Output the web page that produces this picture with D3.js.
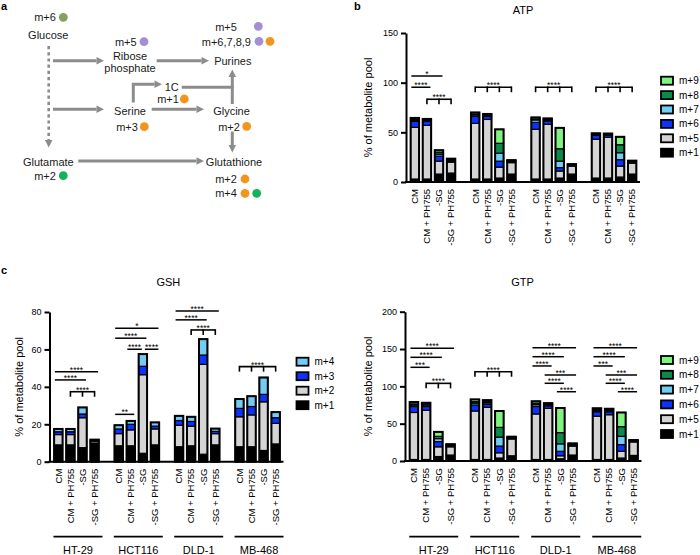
<!DOCTYPE html>
<html><head><meta charset="utf-8">
<script src="https://cdn.jsdelivr.net/npm/d3@7"></script>
<style>body{margin:0;background:#fff}</style>
</head><body><svg id="fig" width="700" height="555"></svg>
<script>
// ---------------- DATA ----------------
const conditions = ["CM", "CM + PH755", "-SG", "-SG + PH755"];
const cellLines = ["HT-29", "HCT116", "DLD-1", "MB-468"];
const purineIsotopologues = ["m+1", "m+5", "m+6", "m+7", "m+8", "m+9"];
const gshIsotopologues = ["m+1", "m+2", "m+3", "m+4"];

// ATP (% of metabolite pool), order: cell line x condition
const atp_m1 = [3, 3, 8, 9, 3, 3, 4, 8, 3, 3, 4, 8, 4, 4, 5, 8];
const atp_m5 = [52, 54, 13, 11, 56, 60, 11, 11.5, 50, 55, 7, 8, 39, 41, 11, 11];
const atp_m6 = [6, 4, 5, 1, 7, 3, 6, 1, 7, 3.5, 3.5, 0.5, 4, 2, 6.5, 1];
const atp_m7 = [1, 1, 2, 1, 1.5, 1, 8, 0.5, 2.5, 1, 6.5, 0.5, 0.5, 0.5, 7, 0.5];
const atp_m8 = [1, 0.5, 2, 0.5, 1, 0.5, 10, 0.5, 1, 0.5, 12.5, 0.5, 0.5, 0.3, 8, 0.5];
const atp_m9 = [1.5, 1, 2, 1, 1.5, 1, 14, 0.5, 1.5, 1, 21, 0.5, 1, 1, 8, 0.5];

// GSH
const gsh_m1 = [9, 9, 7.5, 10, 8.5, 8.5, 4.5, 9, 8, 8.5, 4, 9, 8, 8, 6, 9.5];
const gsh_m2 = [5.5, 5.5, 16, 1, 6.5, 8.5, 42, 8.5, 11.5, 10.5, 48, 6, 16, 17, 26, 11];
const gsh_m3 = [1.5, 1.5, 2, 0.3, 2.5, 3, 4.5, 1.5, 2.5, 2.5, 5, 1.2, 4.5, 4.5, 4, 3];
const gsh_m4 = [1.5, 1.5, 3.5, 0.5, 2, 1.8, 6.5, 2, 2.5, 2.5, 8.5, 1.5, 5, 5.5, 9, 3];

// GTP
const gtp_m1 = [2, 2, 6, 8, 2, 2, 4, 7, 2, 2, 3, 8, 2, 2, 4, 7.5];
const gtp_m5 = [63, 66, 13, 11, 65, 70, 7, 22.5, 61, 68.5, 4, 12, 58, 60, 9, 18];
const gtp_m6 = [8, 5, 7, 1, 8, 4, 9, 1, 10, 3.5, 6, 1.3, 6, 4, 9, 1];
const gtp_m7 = [2, 2, 4, 1, 2.5, 2, 12, 0.8, 2.5, 1.2, 10, 0.8, 1.5, 1.5, 11, 0.6];
const gtp_m8 = [1.5, 1, 3, 0.5, 2, 1.5, 13, 0.5, 2, 1, 15, 0.5, 1.5, 1, 13, 0.4];
const gtp_m9 = [2.5, 2, 6, 1, 3, 2, 22, 0.8, 2.5, 1.3, 33, 1, 1.6, 1.5, 19, 0.6];

const atpTicks = [0, 50, 100, 150];
const gshTicks = [0, 20, 40, 60, 80];
const gtpTicks = [0, 50, 100, 150, 200];

// significance: [cell line index, first bar, last bar, height (% of pool), label, kind]
const atpSig = [
  [0, 0, 2, 106.7, "*", "line"], [0, 0, 1, 95.4, "****", "line"], [0, 1, 3, 83.3, "****", "bracket"],
  [1, 0, 3, 95.4, "****", "bracket"], [2, 0, 3, 95.4, "****", "bracket"], [3, 0, 3, 95.4, "****", "bracket"]
];
const gshSig = [
  [0, 0, 3, 48.1, "****", "line"], [0, 0, 2, 43.7, "****", "line"], [0, 1, 3, 37.4, "****", "bracket"],
  [1, 0, 3, 71.3, "*", "line"], [1, 0, 2, 66, "****", "line"], [1, 1, 2, 60.1, "****", "line"],
  [1, 2, 3, 60.1, "****", "line"], [1, 0, 1, 25.3, "**", "line"],
  [2, 0, 3, 80.6, "****", "line"], [2, 0, 2, 75.8, "****", "line"], [2, 1, 3, 70.4, "****", "bracket"],
  [3, 0, 3, 50.8, "****", "bracket"]
];
const gtpSig = [
  [0, 0, 3, 151, "****", "line"], [0, 0, 2, 138.9, "****", "line"], [0, 0, 1, 125.5, "***", "line"],
  [0, 1, 3, 104, "****", "bracket"],
  [1, 0, 3, 119.6, "****", "bracket"],
  [2, 0, 3, 151.8, "****", "line"], [2, 0, 2, 139.7, "****", "line"], [2, 0, 1, 127.3, "****", "line"],
  [2, 1, 3, 115.2, "***", "line"], [2, 1, 2, 104.1, "****", "line"], [2, 2, 3, 92.8, "****", "line"],
  [3, 0, 3, 151.8, "****", "line"], [3, 0, 2, 139.7, "****", "line"], [3, 0, 1, 127.3, "***", "line"],
  [3, 1, 3, 115.2, "***", "line"], [3, 1, 2, 104.1, "****", "line"], [3, 2, 3, 92.8, "****", "line"]
];

// ---------------- DRAWING ----------------
const FONT = "'Liberation Sans', Arial, Helvetica, sans-serif";
const svg = d3.select("#fig").attr("font-family", FONT);
const colorMap = {
  "m+1": "#000000", "m+2": "#d4d4d4", "m+5": "#d4d4d4",
  "m+3": "#0a33ff", "m+6": "#0a33ff", "m+4": "#72cdf4", "m+7": "#72cdf4",
  "m+8": "#0b8b4b", "m+9": "#7ff57f"
};

function drawPanel(cfg) {
  const g = svg.append("g");
  const y = d3.scaleLinear().domain([0, cfg.ymax]).range([cfg.y0, cfg.yTop]);
  const gx = d3.scaleBand().domain(cellLines).range([cfg.x0 + 1, cfg.x1]).paddingInner(0.2).paddingOuter(0.03);
  const bx = d3.scaleBand().domain(conditions).range([0, gx.bandwidth()]).paddingInner(0.3).paddingOuter(0.15);
  const center = (gi, ci) => gx(cellLines[gi]) + bx(conditions[ci]) + bx.bandwidth() / 2;

  const rows = [];
  cellLines.forEach((cl, gi) => conditions.forEach((c, ci) => {
    const r = { cl, c };
    cfg.series.forEach((s, si) => r[s] = cfg.values[si][gi * 4 + ci]);
    rows.push(r);
  }));
  const stack = d3.stack().keys(cfg.series)(rows);
  stack.forEach(layer => {
    g.append("g").selectAll("rect").data(layer).enter().append("rect")
      .attr("x", d => gx(d.data.cl) + bx(d.data.c))
      .attr("y", d => y(d[1]))
      .attr("width", bx.bandwidth())
      .attr("height", d => y(d[0]) - y(d[1]))
      .attr("fill", colorMap[layer.key])
      .attr("stroke", "#000").attr("stroke-width", 1.2);
  });
  const top = stack[stack.length - 1];
  g.append("g").selectAll("rect").data(top).enter().append("rect")
    .attr("x", d => gx(d.data.cl) + bx(d.data.c))
    .attr("y", d => y(d[1]))
    .attr("width", bx.bandwidth())
    .attr("height", d => y(0) - y(d[1]))
    .attr("fill", "none").attr("stroke", "#000").attr("stroke-width", 2);

  // y axis
  const ax = g.append("g").attr("transform", `translate(${cfg.x0},0)`)
    .call(d3.axisLeft(y).tickValues(cfg.ticks).tickSize(5).tickSizeOuter(0).tickPadding(3));
  ax.attr("font-family", FONT).attr("font-size", 9);
  ax.select(".domain").attr("stroke-width", 2);
  ax.selectAll(".tick line").attr("stroke-width", 2);
  ax.selectAll(".tick text").attr("fill", "#000");
  // x axis line
  g.append("line").attr("x1", cfg.x0 - 1).attr("x2", cfg.x1).attr("y1", cfg.y0).attr("y2", cfg.y0)
    .attr("stroke", "#000").attr("stroke-width", 2);

  // x labels
  cellLines.forEach((cl, gi) => conditions.forEach((c, ci) => {
    g.append("text").attr("transform", `translate(${center(gi, ci)},${cfg.y0 + 7}) rotate(-90)`)
      .attr("text-anchor", "end").attr("dy", "0.35em").attr("font-size", 9.5).text(c);
  }));

  // y label
  g.append("text").attr("transform", `translate(${cfg.ylabelX},${(cfg.y0 + cfg.yTop) / 2}) rotate(-90)`)
    .attr("text-anchor", "middle").attr("dy", "0.35em").attr("font-size", 11).text("% of metabolite pool");
  // title
  g.append("text").attr("x", cfg.titleX).attr("y", cfg.titleY).attr("text-anchor", "middle")
    .attr("font-size", 11).text(cfg.title);

  // significance
  cfg.sig.forEach(s => {
    const [gi, a, b, h, lab, kind] = s;
    const yy = y(h);
    const ca = center(gi, a), cb = center(gi, b);
    let mid;
    if (kind === "line") {
      const endShared = cfg.sig.some(o => o !== s && o[0] === gi && o[3] === h && o[1] === b);
      const startShared = cfg.sig.some(o => o !== s && o[0] === gi && o[3] === h && o[2] === a);
      const lx1 = startShared ? ca + 2 : ca - 3.5;
      const lx2 = endShared ? cb - 1 : cb + 3.5;
      g.append("line").attr("x1", lx1).attr("x2", lx2).attr("y1", yy).attr("y2", yy)
        .attr("stroke", "#000").attr("stroke-width", 1.5);
      mid = (lx1 + lx2) / 2;
    } else {
      g.append("line").attr("x1", ca).attr("x2", cb).attr("y1", yy).attr("y2", yy)
        .attr("stroke", "#000").attr("stroke-width", 1.6);
      for (let i = a; i <= b; i++) {
        const cx = center(gi, i);
        g.append("line").attr("x1", cx).attr("x2", cx).attr("y1", yy - 0.8).attr("y2", yy + 5)
          .attr("stroke", "#000").attr("stroke-width", 1.6);
      }
      mid = (ca + cb) / 2;
    }
    g.append("text").attr("x", mid).attr("y", yy + 1).attr("text-anchor", "middle")
      .attr("font-size", 8.5).text(lab);
  });

  // legend
  const leg = cfg.series.slice().reverse();
  leg.forEach((s, i) => {
    const cy = cfg.legY + i * cfg.legDy;
    g.append("rect").attr("x", cfg.legX).attr("y", cy - 4).attr("width", 12).attr("height", 8)
      .attr("fill", colorMap[s]).attr("stroke", "#000").attr("stroke-width", 1.8);
    g.append("text").attr("x", cfg.legX + 18).attr("y", cy + 3.5).attr("font-size", 10).text(s);
  });

  // cell line labels
  if (cfg.groupLabels) {
    cellLines.forEach((cl, gi) => {
      const c = gx(cl) + gx.bandwidth() / 2 + 1.5;
      g.append("line").attr("x1", c - 24.5).attr("x2", c + 24.5).attr("y1", 536.7).attr("y2", 536.7)
        .attr("stroke", "#000").attr("stroke-width", 1.8);
      g.append("text").attr("x", c).attr("y", 554).attr("text-anchor", "middle").attr("font-size", 11).text(cl);
    });
  }
}

drawPanel({
  x0: 406, x1: 640, y0: 182, yTop: 33, ymax: 150, ticks: atpTicks,
  series: purineIsotopologues, values: [atp_m1, atp_m5, atp_m6, atp_m7, atp_m8, atp_m9],
  title: "ATP", titleX: 523, titleY: 14, ylabelX: 368, sig: atpSig,
  legX: 661, legY: 80.7, legDy: 14.4, groupLabels: false
});
drawPanel({
  x0: 49.5, x1: 283.5, y0: 461.7, yTop: 312, ymax: 80, ticks: gshTicks,
  series: gshIsotopologues, values: [gsh_m1, gsh_m2, gsh_m3, gsh_m4],
  title: "GSH", titleX: 168.3, titleY: 286, ylabelX: 19, sig: gshSig,
  legX: 296.5, legY: 361.7, legDy: 14.5, groupLabels: true
});
drawPanel({
  x0: 405, x1: 641.5, y0: 461, yTop: 311.7, ymax: 200, ticks: gtpTicks,
  series: purineIsotopologues, values: [gtp_m1, gtp_m5, gtp_m6, gtp_m7, gtp_m8, gtp_m9],
  title: "GTP", titleX: 522.5, titleY: 286, ylabelX: 368, sig: gtpSig,
  legX: 661, legY: 360, legDy: 14.8, groupLabels: true
});

// panel letters
[["a", 1, 10], ["b", 354, 10], ["c", 1, 274]].forEach(([t, x, yy]) =>
  svg.append("text").attr("x", x).attr("y", yy).attr("font-size", 11).attr("font-weight", "bold").text(t));

// ---------------- panel a: pathway schematic ----------------
const A = svg.append("g");
const AG = "#8c8c8c";
function arrow(pts, opts = {}) {
  const n = pts.length;
  const [xa, ya] = pts[n - 2], [xb, yb] = pts[n - 1];
  const len = Math.hypot(xb - xa, yb - ya), ux = (xb - xa) / len, uy = (yb - ya) / len;
  const hl = opts.head === false ? 0 : 7.5, hw = 3.8;
  const linePts = pts.slice(0, n - 1).concat([[xb - ux * hl, yb - uy * hl]]);
  A.append("path").attr("d", d3.line()(linePts)).attr("fill", "none").attr("stroke", AG)
    .attr("stroke-width", opts.dash ? 2.6 : 3).attr("stroke-dasharray", opts.dash ? "3.2,3" : null);
  if (opts.head !== false) {
    const bx = xb - ux * hl, by = yb - uy * hl;
    A.append("path").attr("d", `M${xb},${yb}L${bx - uy * hw},${by + ux * hw}L${bx + uy * hw},${by - ux * hw}Z`)
      .attr("fill", AG);
  }
}
arrow([[48.7, 46], [48.7, 147.5]], { dash: true });
arrow([[53, 60.7], [104, 60.7]]);
arrow([[156.7, 60.7], [209, 60.7]]);
arrow([[53, 109.3], [104, 109.3]]);
arrow([[151.7, 109.3], [204, 109.3]]);
arrow([[133.3, 102.5], [133.3, 84.3], [162, 84.3]]);
arrow([[181.7, 87.3], [233.8, 87.3]], { head: false });
arrow([[232.3, 104], [232.3, 69.5]]);
arrow([[232.3, 131.5], [232.3, 152.5]]);
arrow([[78.3, 161], [204, 161]]);

const TXT = "#1a1a1a";
function t(x, y, s, anchor = "middle") {
  A.append("text").attr("x", x).attr("y", y).attr("text-anchor", anchor).attr("font-size", 11)
    .attr("fill", TXT).text(s);
}
function dot(x, y, col) {
  A.append("circle").attr("cx", x).attr("cy", y).attr("r", 4.4).attr("fill", col);
}
const OLIVE = "#86a061", PURPLE = "#a68ed2", ORANGE = "#f2951e", GREEN = "#12b45a";
t(45, 21.3, "m+6"); dot(63.3, 17.3, OLIVE);
t(48.3, 39, "Glucose");
t(125.8, 45.7, "m+5"); dot(144, 41.7, PURPLE);
t(130, 60, "Ribose"); t(130, 72, "phosphate");
t(226, 30.7, "m+5"); dot(258.3, 26.3, PURPLE);
t(251, 45.7, "m+6,7,8,9", "end"); dot(259, 41.3, PURPLE); dot(270, 41.3, ORANGE);
t(232.8, 64.7, "Purines");
t(171.7, 90.7, "1C");
t(168, 103, "m+1"); dot(184.3, 99, ORANGE);
t(130, 115, "Serine");
t(127, 130.7, "m+3"); dot(144.3, 126.7, ORANGE);
t(231.5, 115, "Glycine");
t(229, 130.5, "m+2"); dot(246.7, 126.3, ORANGE);
t(48.3, 166, "Glutamate");
t(45, 179.7, "m+2"); dot(63.3, 175.7, GREEN);
t(234, 165.5, "Glutathione");
t(226, 183, "m+2"); dot(245, 179, ORANGE);
t(226, 197.3, "m+4"); dot(245, 193.3, ORANGE); dot(256.7, 193.3, GREEN);
</script></body></html>
